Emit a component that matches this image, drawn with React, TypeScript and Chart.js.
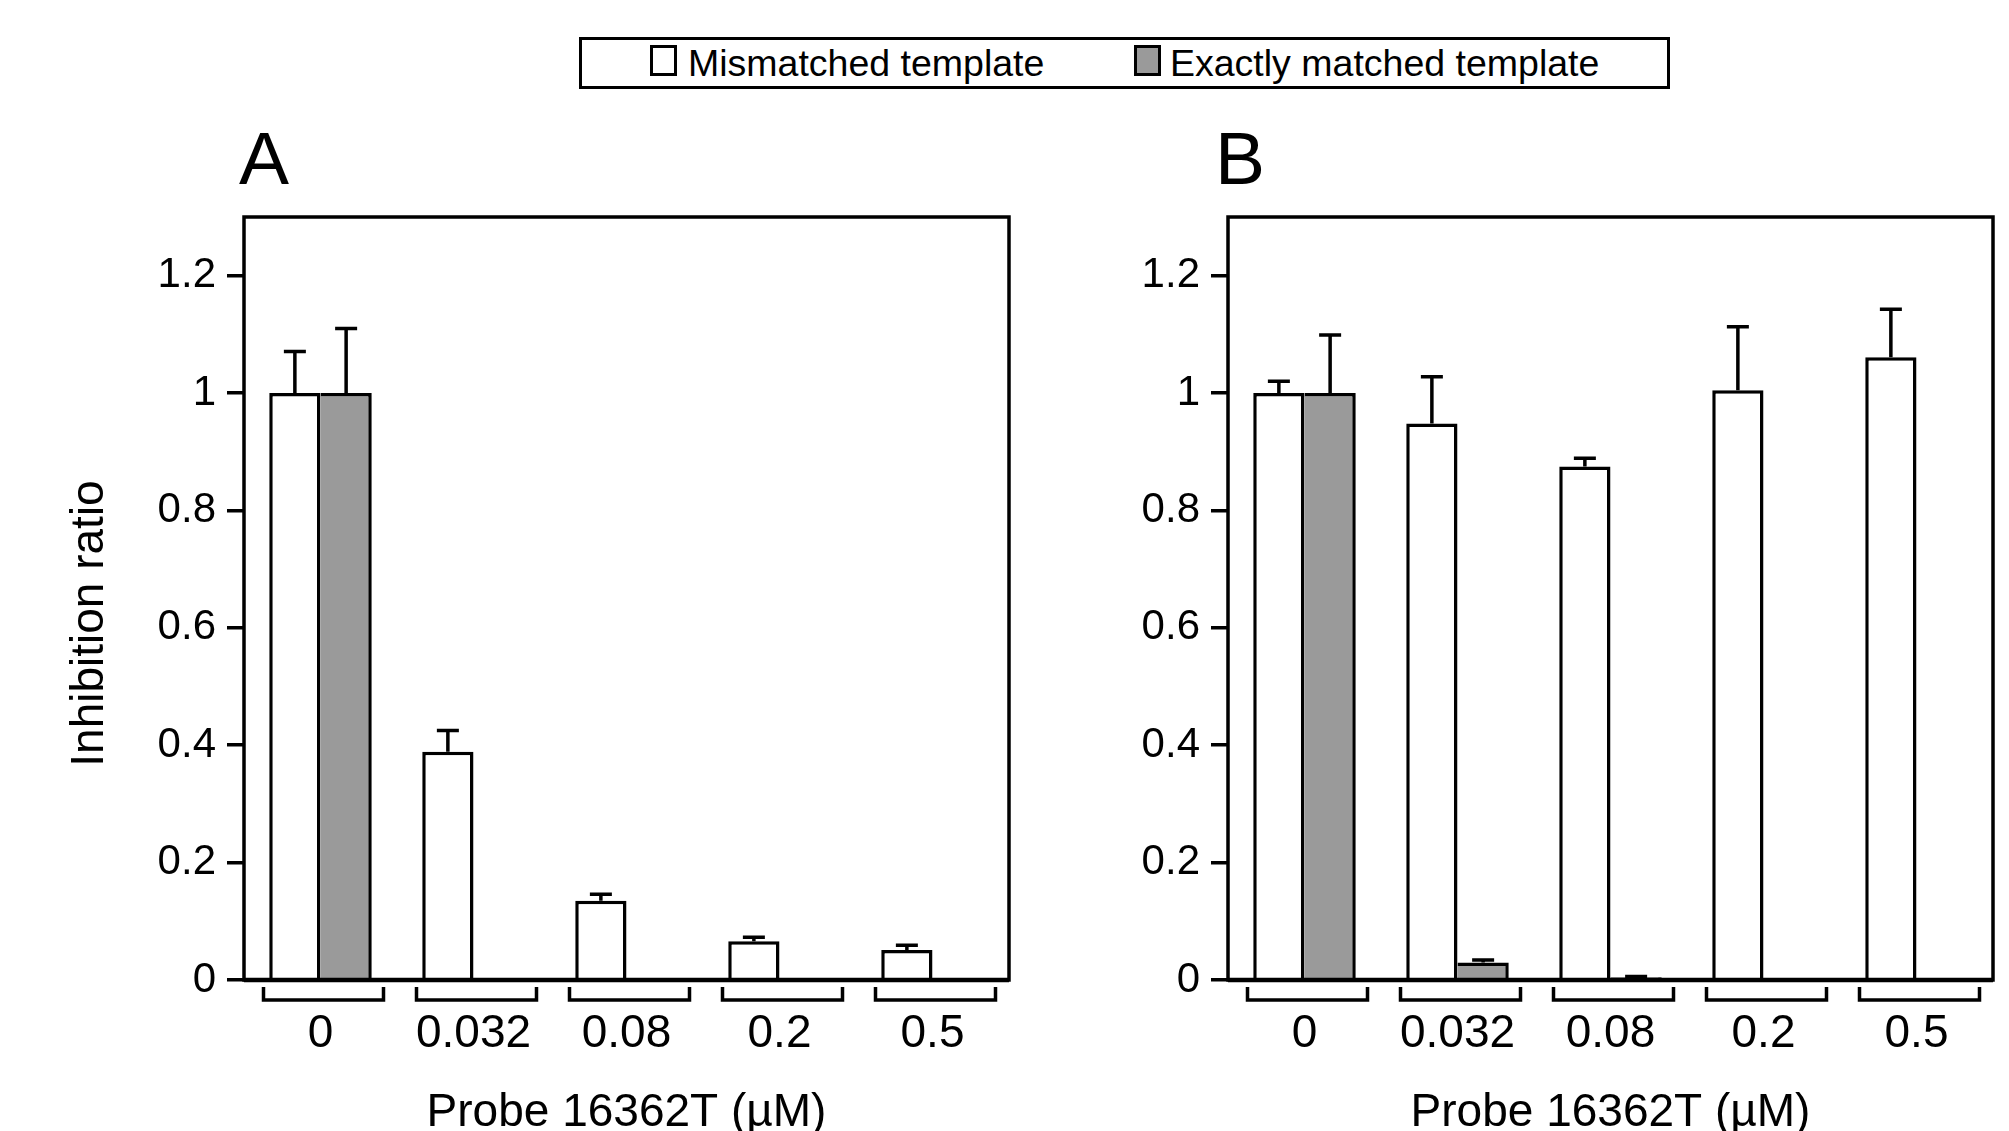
import React, { useEffect, useRef } from "react";
import { Chart, registerables } from "chart.js";

Chart.register(...registerables);

// Probe concentrations (µM) and y-axis ticks
const categories = ["0", "0.032", "0.08", "0.2", "0.5"];
const yTickValues = [0, 0.2, 0.4, 0.6, 0.8, 1, 1.2];
const yMax = 1.3;

// Panel A: inhibition ratio and upper error (SD)
const mismatchedA = [1.0, 0.389, 0.135, 0.066, 0.051];
const mismatchedErrA = [0.071, 0.036, 0.011, 0.007, 0.008];
const matchedA = [1.0, 0, 0, 0, 0.0035];
const matchedErrA = [0.11, 0, 0, 0, 0];

// Panel B
const mismatchedB = [1.0, 0.948, 0.875, 1.005, 1.061];
const mismatchedErrB = [0.02, 0.08, 0.014, 0.108, 0.082];
const matchedB = [1.0, 0.03, 0.0045, 0, 0.0035];
const matchedErrB = [0.099, 0.004, 0.0015, 0, 0];

const seriesNames = ["Mismatched template", "Exactly matched template"];
const xTitle = "Probe 16362T (µM)";
const yTitle = "Inhibition ratio";

const FONT = '"Liberation Sans", Arial, Helvetica, sans-serif';
const GRAY = "#9a9a9a";
const CANVAS_H = 1131;
const LINE = 3.5;

// Upper-only error bars with caps
const errorBars = {
  id: "errorBars",
  afterDatasetsDraw(chart: any) {
    const { ctx } = chart;
    const y = chart.scales.y;
    ctx.save();
    ctx.strokeStyle = "#000";
    ctx.lineWidth = LINE;
    chart.data.datasets.forEach((ds: any, i: number) => {
      const meta = chart.getDatasetMeta(i);
      meta.data.forEach((bar: any, j: number) => {
        const e = ds.errors[j];
        if (!e) return;
        const v = ds.data[j];
        const yb = y.getPixelForValue(v);
        const yt = y.getPixelForValue(v + e);
        ctx.beginPath();
        ctx.moveTo(bar.x, yb);
        ctx.lineTo(bar.x, yt);
        ctx.moveTo(bar.x - 11, yt);
        ctx.lineTo(bar.x + 11, yt);
        ctx.stroke();
      });
    });
    ctx.restore();
  },
};

// Frame, category brackets, panel letter and rotated y title
const decorations = {
  id: "decorations",
  afterDraw(chart: any, _args: any, opts: any) {
    const { ctx, chartArea: a } = chart;
    const x = chart.scales.x;
    ctx.save();
    ctx.strokeStyle = "#000";
    ctx.fillStyle = "#000";
    ctx.lineWidth = LINE;
    ctx.strokeRect(a.left, a.top, a.right - a.left, a.bottom - a.top);
    ctx.lineWidth = 4.5;
    ctx.beginPath();
    ctx.moveTo(a.left, a.bottom);
    ctx.lineTo(a.right, a.bottom);
    ctx.stroke();

    ctx.lineWidth = LINE;
    categories.forEach((_c, i) => {
      const cx = x.getPixelForValue(i) + 3;
      const half = 60;
      ctx.beginPath();
      ctx.moveTo(cx - half, a.bottom + 7);
      ctx.lineTo(cx - half, a.bottom + 20);
      ctx.lineTo(cx + half, a.bottom + 20);
      ctx.lineTo(cx + half, a.bottom + 7);
      ctx.stroke();
    });

    ctx.font = `75px ${FONT}`;
    ctx.textAlign = "left";
    ctx.textBaseline = "alphabetic";
    ctx.fillText(opts.letter, a.left + opts.letterDx, 184);

    if (opts.yTitle) {
      ctx.translate(opts.yTitleX, (a.top + a.bottom) / 2 + 25);
      ctx.rotate(-Math.PI / 2);
      ctx.font = `46px ${FONT}`;
      ctx.textAlign = "center";
      ctx.textBaseline = "middle";
      ctx.fillText(opts.yTitle, 0, 0);
    }
    ctx.restore();
  },
};

type PanelProps = {
  left: number;
  width: number;
  mismatched: number[];
  mismatchedErr: number[];
  matched: number[];
  matchedErr: number[];
  letter: string;
  letterDx: number;
  axisWidth: number;
  padLeft: number;
  padRight: number;
  showYTitle: boolean;
};

function Panel(p: PanelProps) {
  const ref = useRef<HTMLCanvasElement | null>(null);

  useEffect(() => {
    if (!ref.current) return;
    Chart.defaults.font.family = FONT;
    Chart.defaults.color = "#000";
    const chart = new Chart(ref.current, {
      type: "bar",
      data: {
        labels: categories,
        datasets: [
          {
            label: seriesNames[0],
            data: p.mismatched,
            errors: p.mismatchedErr,
            backgroundColor: "#ffffff",
            borderColor: "#000",
            borderWidth: { top: LINE, left: LINE, right: LINE, bottom: 0 },
            borderSkipped: false,
            categoryPercentage: 0.67,
            barPercentage: 1.0,
          } as any,
          {
            label: seriesNames[1],
            data: p.matched,
            errors: p.matchedErr,
            backgroundColor: GRAY,
            borderColor: "#000",
            borderWidth: { top: LINE, left: 0, right: LINE, bottom: 0 },
            borderSkipped: false,
            categoryPercentage: 0.67,
            barPercentage: 1.0,
          } as any,
        ],
      },
      options: {
        animation: false,
        responsive: false,
        devicePixelRatio: 1,
        layout: {
          padding: { top: 217, bottom: 0, left: p.padLeft, right: p.padRight },
        },
        plugins: {
          legend: { display: false },
          tooltip: { enabled: false },
          decorations: {
            letter: p.letter,
            letterDx: p.letterDx,
            yTitle: p.showYTitle ? yTitle : null,
            yTitleX: 90,
          },
        } as any,
        scales: {
          x: {
            type: "category",
            grid: { display: false },
            border: { display: false },
            ticks: {
              font: { size: 46, family: FONT },
              padding: 19,
              maxRotation: 0,
              autoSkip: false,
              color: "#000",
            },
            title: {
              display: true,
              text: xTitle,
              font: { size: 46, family: FONT, lineHeight: 1 },
              padding: { top: 0, bottom: -5 },
              color: "#000",
            },
            afterFit(scale: any) {
              scale.height = 151;
            },
          },
          y: {
            type: "linear",
            min: 0,
            max: yMax,
            grid: {
              display: true,
              drawOnChartArea: false,
              drawTicks: true,
              tickLength: 17,
              lineWidth: LINE,
              color: "#000",
            },
            border: { display: false },
            ticks: {
              font: { size: 42, family: FONT },
              padding: 11,
              color: "#000",
              callback: (v: any) => String(Math.round(Number(v) * 10) / 10),
            },
            afterBuildTicks(scale: any) {
              scale.ticks = yTickValues.map((v) => ({ value: v }));
            },
            afterFit(scale: any) {
              scale.width = p.axisWidth;
            },
          },
        },
      } as any,
      plugins: [errorBars, decorations],
    });
    return () => chart.destroy();
  }, []);

  return (
    <canvas
      ref={ref}
      width={p.width}
      height={CANVAS_H}
      style={{
        position: "absolute",
        left: p.left,
        top: 0,
        width: p.width,
        height: CANVAS_H,
      }}
    />
  );
}

function Legend() {
  const text: React.CSSProperties = {
    position: "absolute",
    top: 0,
    height: 46,
    lineHeight: "46px",
    fontFamily: FONT,
    fontSize: 37.5,
    color: "#000",
    whiteSpace: "nowrap",
  };
  const sq: React.CSSProperties = {
    position: "absolute",
    top: 5,
    width: 27,
    height: 31,
    boxSizing: "border-box",
    border: "3px solid #000",
  };
  return (
    <div
      style={{
        position: "absolute",
        left: 579,
        top: 37,
        width: 1091,
        height: 52,
        boxSizing: "border-box",
        border: "3.5px solid #000",
        background: "#fff",
      }}
    >
      <div style={{ ...sq, left: 68, background: "#fff" }} />
      <div style={{ ...text, left: 106 }}>{seriesNames[0]}</div>
      <div style={{ ...sq, left: 552, background: GRAY }} />
      <div style={{ ...text, left: 588 }}>{seriesNames[1]}</div>
    </div>
  );
}

export default function App() {
  return (
    <div
      style={{
        position: "absolute",
        left: 0,
        top: 0,
        width: 2009,
        height: CANVAS_H,
        background: "#fff",
        overflow: "hidden",
      }}
    >
      <Panel
        left={0}
        width={1040}
        mismatched={mismatchedA}
        mismatchedErr={mismatchedErrA}
        matched={matchedA}
        matchedErr={matchedErrA}
        letter="A"
        letterDx={-5}
        axisWidth={120}
        padLeft={124}
        padRight={31}
        showYTitle={true}
      />
      <Panel
        left={1040}
        width={969}
        mismatched={mismatchedB}
        mismatchedErr={mismatchedErrB}
        matched={matchedB}
        matchedErr={matchedErrB}
        letter="B"
        letterDx={-13}
        axisWidth={100}
        padLeft={88}
        padRight={16}
        showYTitle={false}
      />
      <Legend />
    </div>
  );
}
